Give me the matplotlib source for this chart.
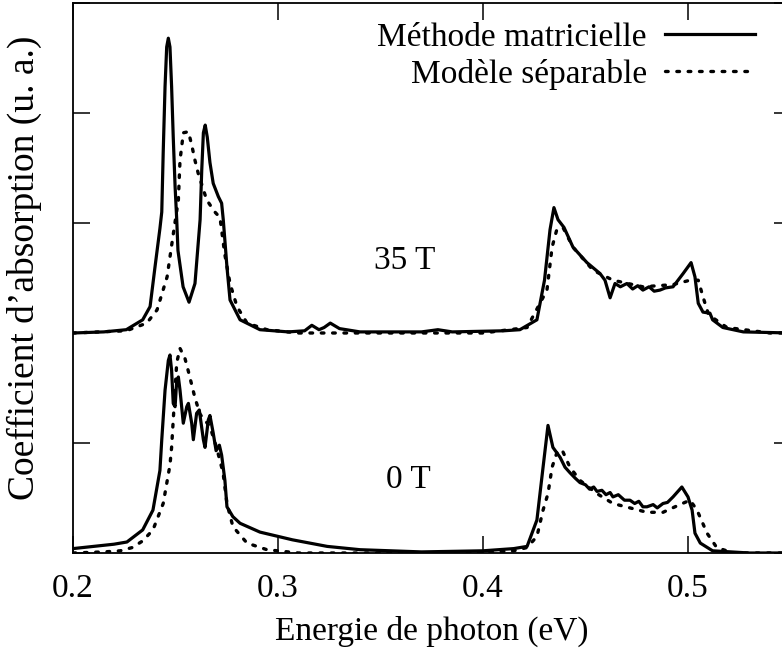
import matplotlib; matplotlib.use("Agg")
import matplotlib.pyplot as plt

# 0 T, méthode matricielle
e0_mat = [0.200, 0.210, 0.220, 0.2263, 0.234, 0.239, 0.2424, 0.2433, 0.2449, 0.2465,
          0.2473, 0.2481, 0.2489, 0.2498, 0.2506, 0.2514, 0.2522, 0.2538, 0.2555, 0.2563,
          0.2579, 0.2587, 0.2603, 0.2616, 0.2636, 0.2644, 0.2660, 0.2668, 0.2684, 0.2698,
          0.2714, 0.2725, 0.2741, 0.2751, 0.2780, 0.2815, 0.2912, 0.3070, 0.3240, 0.3400,
          0.3700, 0.4000, 0.4150, 0.4215, 0.4263, 0.4293, 0.4317, 0.4341, 0.4376, 0.4400,
          0.4424, 0.4450, 0.4473, 0.4500, 0.4520, 0.4540, 0.4556, 0.4580, 0.4600, 0.4620,
          0.4634, 0.4660, 0.4690, 0.4717, 0.4740, 0.4760, 0.4780, 0.4800, 0.4830, 0.4850,
          0.4878, 0.4900, 0.4927, 0.4970, 0.5000, 0.5020, 0.5034, 0.5060, 0.5120, 0.5300,
          0.5500]
a0_mat = [0.04, 0.06, 0.08, 0.10, 0.21, 0.39, 0.75, 1.03, 1.48, 1.75,
          1.80, 1.66, 1.36, 1.33, 1.57, 1.60, 1.48, 1.18, 1.33, 1.36,
          1.18, 1.03, 1.27, 1.30, 1.03, 0.96, 1.21, 1.25, 1.09, 0.93,
          0.98, 0.89, 0.66, 0.42, 0.33, 0.27, 0.19, 0.12, 0.06, 0.03,
          0.01, 0.02, 0.04, 0.06, 0.30, 0.78, 1.16, 0.96, 0.87, 0.78,
          0.73, 0.68, 0.64, 0.62, 0.58, 0.60, 0.56, 0.57, 0.53, 0.55,
          0.51, 0.53, 0.48, 0.48, 0.45, 0.47, 0.42, 0.42, 0.44, 0.41,
          0.45, 0.46, 0.51, 0.60, 0.51, 0.39, 0.18, 0.09, 0.02, 0.00,
          0.00]

# 0 T, modèle séparable
e0_sep = [0.200, 0.215, 0.223, 0.229, 0.234, 0.239, 0.244, 0.2473, 0.2481, 0.2489,
          0.2506, 0.2522, 0.2546, 0.2563, 0.2579, 0.2595, 0.262, 0.2668, 0.270, 0.2732,
          0.2751, 0.278, 0.2849, 0.2946, 0.310, 0.400, 0.415, 0.4215, 0.4263, 0.4293,
          0.4317, 0.4337, 0.436, 0.4385, 0.4424, 0.4473, 0.4556, 0.4634, 0.4717, 0.480,
          0.4878, 0.496, 0.501, 0.5044, 0.5093, 0.514, 0.522, 0.550]
a0_sep = [0.00, 0.01, 0.02, 0.05, 0.11, 0.21, 0.45, 0.80, 0.96, 1.21,
          1.73, 1.86, 1.77, 1.65, 1.53, 1.41, 1.26, 1.15, 0.96, 0.73,
          0.45, 0.24, 0.09, 0.03, 0.00, 0.00, 0.02, 0.05, 0.15, 0.39,
          0.54, 0.78, 0.91, 0.94, 0.78, 0.66, 0.54, 0.45, 0.41, 0.37,
          0.37, 0.44, 0.48, 0.39, 0.18, 0.05, 0.00, 0.00]

# 35 T, méthode matricielle
e35_mat = [0.200, 0.215, 0.226, 0.234, 0.2376, 0.240, 0.2424, 0.2433, 0.2440, 0.2449,
           0.2457, 0.2465, 0.2473, 0.2481, 0.2489, 0.2498, 0.2506, 0.2512, 0.2537, 0.2566,
           0.2595, 0.2620, 0.2628, 0.2636, 0.2645, 0.2655, 0.2668, 0.2684, 0.2709, 0.2725,
           0.2733, 0.2751, 0.2766, 0.2815, 0.2912, 0.305, 0.313, 0.3165, 0.320, 0.3225,
           0.3255, 0.330, 0.340, 0.370, 0.378, 0.385, 0.410, 0.418, 0.4263, 0.430,
           0.4327, 0.4346, 0.4366, 0.4395, 0.4439, 0.4507, 0.4571, 0.4595, 0.462, 0.4644,
           0.467, 0.4702, 0.473, 0.4755, 0.478, 0.481, 0.4835, 0.4863, 0.489, 0.4927,
           0.4976, 0.5015, 0.5034, 0.505, 0.5073, 0.5107, 0.512, 0.517, 0.527, 0.550]
a35_mat = [0.00, 0.01, 0.03, 0.12, 0.24, 0.60, 0.95, 1.10, 1.64, 2.24,
           2.60, 2.68, 2.60, 2.24, 1.78, 1.33, 1.03, 0.75, 0.42, 0.28,
           0.45, 1.03, 1.48, 1.82, 1.89, 1.78, 1.55, 1.36, 1.24, 1.18,
           1.03, 0.60, 0.30, 0.12, 0.03, 0.01, 0.02, 0.07, 0.03, 0.05,
           0.09, 0.04, 0.01, 0.01, 0.03, 0.01, 0.02, 0.03, 0.12, 0.48,
           0.94, 1.14, 1.03, 0.96, 0.78, 0.64, 0.54, 0.48, 0.32, 0.45,
           0.42, 0.45, 0.40, 0.43, 0.39, 0.42, 0.38, 0.39, 0.41, 0.42,
           0.54, 0.64, 0.51, 0.27, 0.19, 0.18, 0.12, 0.05, 0.01, 0.00]

# 35 T, modèle séparable
e35_sep = [0.200, 0.226, 0.236, 0.241, 0.2459, 0.249, 0.2514, 0.2522, 0.2530, 0.2538,
           0.2563, 0.2579, 0.2595, 0.2611, 0.2652, 0.2692, 0.2717, 0.274, 0.2766, 0.280,
           0.2849, 0.2946, 0.310, 0.400, 0.4215, 0.4312, 0.4337, 0.436, 0.439, 0.4439,
           0.4537, 0.4634, 0.478, 0.4927, 0.501, 0.505, 0.5073, 0.5098, 0.512, 0.519,
           0.540, 0.550]
a35_sep = [0.00, 0.02, 0.09, 0.21, 0.51, 0.91, 1.21, 1.57, 1.69, 1.82,
           1.83, 1.71, 1.57, 1.45, 1.21, 1.10, 1.05, 0.72, 0.45, 0.24,
           0.09, 0.03, 0.00, 0.00, 0.05, 0.39, 0.78, 0.94, 0.96, 0.78,
           0.57, 0.48, 0.42, 0.44, 0.48, 0.48, 0.33, 0.18, 0.14, 0.05,
           0.00, 0.00]

offset_35 = 2.0
xticks = [0.2, 0.3, 0.4, 0.5]

plt.rcParams["font.family"] = "Liberation Serif"
plt.rcParams["font.size"] = 24

fig = plt.figure(figsize=(7.82, 6.57), dpi=100)
# right spine lies just outside the picture, as in the original
ax = fig.add_axes([73 / 782, 104 / 657, 717.5 / 782, 550 / 657])

solid = dict(color="black", lw=2.3, solid_joinstyle="round")
dotted = dict(color="black", lw=2.4, ls=(0, (0.8, 2.6)), dash_capstyle="round")
ax.plot(e35_mat, [a + offset_35 for a in a35_mat], label="Méthode matricielle", **solid)
ax.plot(e35_sep, [a + offset_35 for a in a35_sep], label="Modèle séparable", **dotted)
ax.plot(e0_mat, a0_mat, **solid)
ax.plot(e0_sep, a0_sep, **dotted)

ax.text(0.362, 2.66, "35 T", ha="center", va="center")
ax.text(0.3634, 0.67, "0 T", ha="center", va="center")

ax.set_xlim(0.2, 0.55)
ax.set_ylim(0, 5)
ax.set_xticks(xticks)
ax.set_xticklabels([f"{t:.1f}" for t in xticks])
ax.set_yticks([0, 1, 2, 3, 4, 5])
ax.set_yticklabels([])
ax.tick_params(direction="in", length=12.5, width=1.1, top=True, right=True, pad=15)
for s in ax.spines.values():
    s.set_linewidth(1.3)
ax.set_xlabel("Energie de photon (eV)", labelpad=8)
ax.set_ylabel("Coefficient d\u2019absorption (u. a.)", fontsize=27)
ax.yaxis.set_label_coords(-0.043, 0.518)

ax.legend(loc="upper right", bbox_to_anchor=(755 / 782, 1 - 22 / 657),
          bbox_transform=fig.transFigure, frameon=False, markerfirst=False,
          handlelength=2.7, handletextpad=0.55, borderpad=0, borderaxespad=0,
          labelspacing=0.2)

fig.savefig("out.png", dpi=100)
